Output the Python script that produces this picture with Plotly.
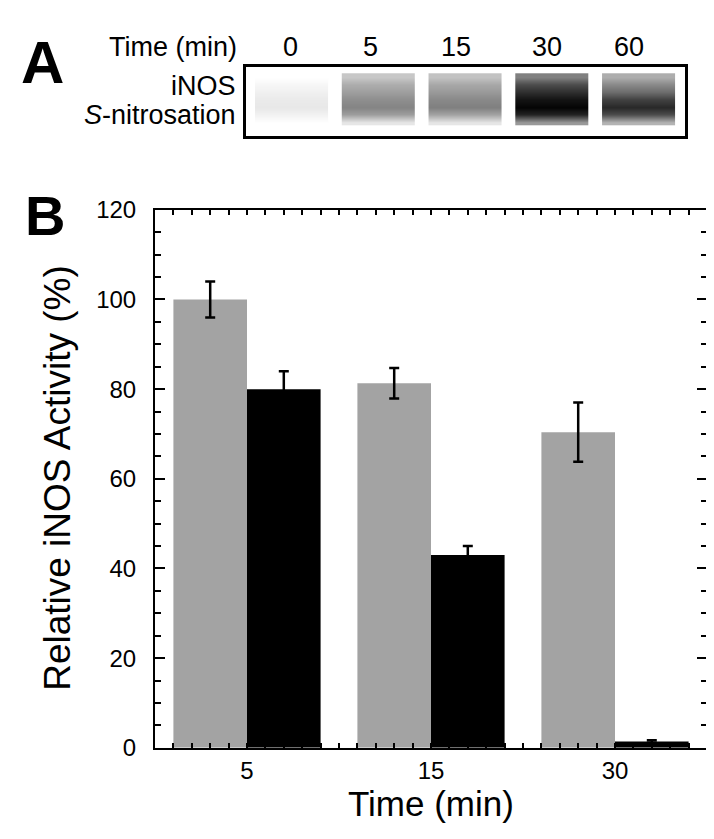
import plotly.graph_objects as go

# ---------------- data ----------------
time_groups = ["5", "15", "30"]
control_activity = [100, 81.3, 70.4]      # gray bars
control_err = [4, 3.4, 6.6]
treated_activity = [80, 43, 1.4]          # black bars
treated_err = [4, 2, 0.3]

blot_lanes = ["0", "5", "15", "30", "60"]
# band darkness (0 = white, 1 = black), rows top -> bottom, one column per lane
blot_rows = [
    [0.00, 0.22, 0.24, 0.50, 0.32],
    [0.03, 0.32, 0.34, 0.70, 0.46],
    [0.06, 0.38, 0.40, 0.82, 0.58],
    [0.08, 0.44, 0.46, 0.92, 0.74],
    [0.09, 0.48, 0.50, 0.98, 0.84],
    [0.05, 0.38, 0.36, 0.86, 0.70],
    [0.00, 0.10, 0.10, 0.40, 0.30],
]

y_ticks = [0, 20, 40, 60, 80, 100, 120]

W, H = 714, 839
FONT = "Liberation Sans, Arial, sans-serif"


def px(xp):
    return xp / W


def py(yp):
    return 1 - yp / H


fig = go.Figure()

# ---------------- panel B bars ----------------
fig.add_trace(go.Bar(
    x=list(range(len(time_groups))), y=control_activity,
    marker=dict(color="#a3a3a3", line=dict(width=0)),
    error_y=dict(type="data", array=control_err, color="black", thickness=2.5, width=5),
    xaxis="x", yaxis="y", showlegend=False,
))
fig.add_trace(go.Bar(
    x=list(range(len(time_groups))), y=treated_activity,
    marker=dict(color="black", line=dict(width=0)),
    error_y=dict(type="data", array=treated_err, color="black", thickness=2.5, width=5),
    xaxis="x", yaxis="y", showlegend=False,
))

# ---------------- panel A blot (one smoothed heatmap per lane) ----------------
half = 0.21
for li in range(len(blot_lanes)):
    col = [[row[li], row[li]] for row in blot_rows]
    fig.add_trace(go.Heatmap(
        z=col, x=[li - half, li + half], y=list(range(len(blot_rows))),
        colorscale=[[0, "white"], [1, "black"]], zmin=0, zmax=1,
        zsmooth="best", showscale=False, hoverinfo="skip",
        xaxis="x3", yaxis="y3",
    ))

plot_dom_x = [px(147), px(699)]
plot_dom_y = [py(750), py(194)]
n_rows = len(blot_rows)
row_px = 54 / n_rows   # band height in pixels spread over the rows

fig.update_layout(
    width=W, height=H,
    margin=dict(l=0, r=0, t=0, b=0),
    paper_bgcolor="white", plot_bgcolor="white",
    barmode="group", bargap=0.2, bargroupgap=0,
    font=dict(family=FONT, color="black"),
    xaxis=dict(
        domain=plot_dom_x, range=[-0.5, 2.5], anchor="y",
        tickmode="array", tickvals=[0, 1, 2], ticktext=time_groups,
        ticks="inside", ticklen=0, tickfont=dict(size=24),
        minor=dict(tickmode="linear", tick0=-0.5, dtick=0.1, ticks="inside",
                   ticklen=5, tickwidth=1.5, tickcolor="black"),
        showline=True, linecolor="black", linewidth=2, mirror="ticks",
        showgrid=False, zeroline=False, fixedrange=True,
    ),
    xaxis2=dict(
        overlaying="x", anchor="y", range=[-0.5, 2.5],
        tickmode="array", tickvals=[0.5, 1.5], ticks="inside", ticklen=10,
        tickwidth=1.5, tickcolor="black", showticklabels=False,
        mirror="ticks", showline=False, showgrid=False, zeroline=False,
    ),
    yaxis=dict(
        domain=plot_dom_y, range=[0, 120], anchor="x",
        tickmode="array", tickvals=y_ticks,
        ticks="inside", ticklen=10, tickwidth=1.5, tickcolor="black",
        tickfont=dict(size=24), ticklabelstandoff=12,
        minor=dict(tickmode="linear", tick0=0, dtick=5, ticks="inside",
                   ticklen=6, tickwidth=1.5, tickcolor="black"),
        showline=True, linecolor="black", linewidth=2, mirror="ticks",
        showgrid=False, zeroline=False, fixedrange=True,
    ),
    xaxis3=dict(
        domain=[px(238), px(677)], range=[-0.524, 4.536], anchor="y3",
        showticklabels=False, ticks="", showgrid=False, zeroline=False,
        showline=True, linecolor="black", linewidth=2.5, mirror=True,
    ),
    yaxis3=dict(
        domain=[py(118), py(46)],
        range=[n_rows - 0.5 + 11 / row_px, -0.5 - 7 / row_px], anchor="x3",
        showticklabels=False, ticks="", showgrid=False, zeroline=False,
        showline=True, linecolor="black", linewidth=2.5, mirror=True,
    ),
)

annotations = []
# panel letters
annotations.append(dict(text="<b>A</b>", x=px(34), y=py(42), xref="paper", yref="paper",
                        showarrow=False, font=dict(size=60, family=FONT), xanchor="center", yanchor="middle"))
annotations.append(dict(text="<b>B</b>", x=px(37), y=py(200), xref="paper", yref="paper",
                        showarrow=False, font=dict(size=56, family=FONT), xanchor="center", yanchor="middle"))
# panel A labels
annotations.append(dict(text="Time (min)", x=px(231), y=py(26), xref="paper", yref="paper",
                        showarrow=False, font=dict(size=27), xanchor="right", yanchor="middle"))
lane_label_x = [282, 362, 448, 539, 621]
for lab, lx in zip(blot_lanes, lane_label_x):
    annotations.append(dict(text=lab, x=px(lx), y=py(26), xref="paper", yref="paper",
                            showarrow=False, font=dict(size=27), xanchor="center", yanchor="middle"))
annotations.append(dict(text="iNOS", x=px(230), y=py(66), xref="paper", yref="paper",
                        showarrow=False, font=dict(size=27), xanchor="right", yanchor="middle"))
annotations.append(dict(text="<i>S</i>-nitrosation", x=px(230), y=py(96), xref="paper", yref="paper",
                        showarrow=False, font=dict(size=27), xanchor="right", yanchor="middle"))
# axis titles
annotations.append(dict(text="Relative iNOS Activity (%)", x=px(50), y=py(471), xref="paper", yref="paper",
                        showarrow=False, font=dict(size=37), textangle=-90, xanchor="center", yanchor="middle"))
annotations.append(dict(text="Time (min)", x=px(423), y=py(807), xref="paper", yref="paper",
                        showarrow=False, font=dict(size=35), xanchor="center", yanchor="middle"))

fig.update_layout(annotations=annotations)

fig.write_html("out.html")
